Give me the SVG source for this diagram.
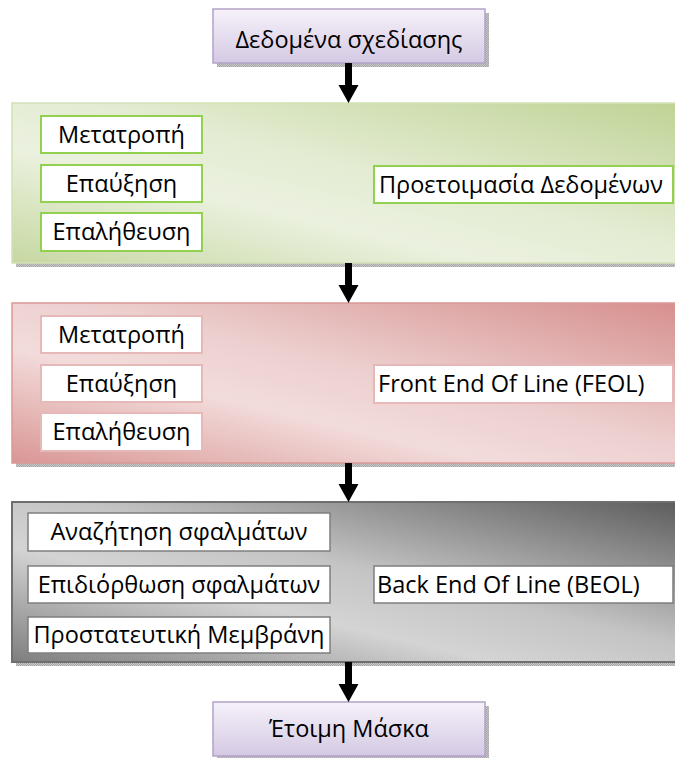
<svg xmlns="http://www.w3.org/2000/svg" width="675" height="758" viewBox="0 0 675 758">
  <style>
    text { font-family: "Open Sans", "Noto Sans", "DejaVu Sans", sans-serif; font-size: 23.5px; fill: #000; }
    .c { text-anchor: middle; }
    .l { text-anchor: start; }
    .inner { fill: #ffffff; }
    .g-in { stroke: #92d050; stroke-width: 2; }
    .r-in { stroke: #e6b9b8; stroke-width: 2; }
    .k-in { stroke: #7f7f7f; stroke-width: 1.5; }
    .end { fill: url(#purpleFill); stroke: #b3a2c7; stroke-width: 1.5; }
    .shadow { fill: url(#dither); }
    .arrow { fill: #000; }
  </style>
  <defs>
    <pattern id="dither" width="2" height="2" patternUnits="userSpaceOnUse">
      <rect width="2" height="2" fill="#a6a6a6"/>
      <rect width="1" height="1" fill="#c8c8c8"/>
      <rect x="1" y="1" width="1" height="1" fill="#c8c8c8"/>
    </pattern>
    <linearGradient id="purpleFill" x1="0" y1="0" x2="0" y2="1">
      <stop offset="0" stop-color="#f6f2fa"/>
      <stop offset="1" stop-color="#d4c9e3"/>
    </linearGradient>
    <linearGradient id="greenFill" x1="0" y1="1" x2="1" y2="0">
      <stop offset="0" stop-color="#c6d8a2"/>
      <stop offset="0.36" stop-color="#ebf1df"/>
      <stop offset="0.55" stop-color="#e4ecd3"/>
      <stop offset="1" stop-color="#bfd395"/>
    </linearGradient>
    <linearGradient id="redFill" x1="0" y1="1" x2="1" y2="0">
      <stop offset="0" stop-color="#d99694"/>
      <stop offset="0.36" stop-color="#f2dcdb"/>
      <stop offset="0.55" stop-color="#ecd0cf"/>
      <stop offset="1" stop-color="#d68f8d"/>
    </linearGradient>
    <linearGradient id="grayFill" x1="0" y1="1" x2="1" y2="0">
      <stop offset="0" stop-color="#7e7e7e"/>
      <stop offset="0.36" stop-color="#d4d4d4"/>
      <stop offset="0.55" stop-color="#c4c4c4"/>
      <stop offset="1" stop-color="#5c5c5c"/>
    </linearGradient>
  </defs>

  <!-- start node -->
  <g id="design-data">
    <rect class="shadow" x="217" y="13" width="272" height="54"/>
    <rect class="end" x="213" y="9" width="272" height="54"/>
    <text class="c" x="349" y="48">Δεδομένα σχεδίασης</text>
  </g>

  <!-- data preparation stage -->
  <g id="data-prep">
    <rect class="shadow" x="16" y="107" width="670" height="160"/>
    <rect x="12" y="103" width="670" height="160" fill="url(#greenFill)" stroke="#d3e1b6" stroke-width="1.5"/>
    <g id="prep-convert">
      <rect class="inner g-in" x="41" y="116" width="161" height="37"/>
      <text class="c" x="121.5" y="143">Μετατροπή</text>
    </g>
    <g id="prep-augment">
      <rect class="inner g-in" x="41" y="165" width="161" height="37"/>
      <text class="c" x="121.5" y="192">Επαύξηση</text>
    </g>
    <g id="prep-verify">
      <rect class="inner g-in" x="41" y="213" width="161" height="38"/>
      <text class="c" x="121.5" y="240">Επαλήθευση</text>
    </g>
    <g id="prep-label">
      <rect class="inner g-in" x="374" y="166" width="299" height="37"/>
      <text class="l" x="379" y="193">Προετοιμασία Δεδομένων</text>
    </g>
  </g>

  <!-- front end of line stage -->
  <g id="feol">
    <rect class="shadow" x="16" y="307" width="670" height="160"/>
    <rect x="12" y="303" width="670" height="160" fill="url(#redFill)" stroke="#da9896" stroke-width="1.5"/>
    <g id="feol-convert">
      <rect class="inner r-in" x="41" y="316" width="161" height="37"/>
      <text class="c" x="121.5" y="343">Μετατροπή</text>
    </g>
    <g id="feol-augment">
      <rect class="inner r-in" x="41" y="365" width="161" height="37"/>
      <text class="c" x="121.5" y="392">Επαύξηση</text>
    </g>
    <g id="feol-verify">
      <rect class="inner r-in" x="41" y="413" width="161" height="38"/>
      <text class="c" x="121.5" y="440">Επαλήθευση</text>
    </g>
    <g id="feol-label">
      <rect class="inner r-in" x="374" y="365" width="299" height="38"/>
      <text class="l" x="378" y="392">Front End Of Line (FEOL)</text>
    </g>
  </g>

  <!-- back end of line stage -->
  <g id="beol">
    <rect class="shadow" x="16" y="506" width="670" height="160"/>
    <rect x="12" y="502" width="670" height="160" fill="url(#grayFill)" stroke="#6f6f6f" stroke-width="2"/>
    <g id="beol-search">
      <rect class="inner k-in" x="28" y="513" width="302" height="38"/>
      <text class="c" x="179" y="540">Αναζήτηση σφαλμάτων</text>
    </g>
    <g id="beol-fix">
      <rect class="inner k-in" x="28" y="566" width="302" height="37"/>
      <text class="c" x="179" y="593">Επιδιόρθωση σφαλμάτων</text>
    </g>
    <g id="beol-membrane">
      <rect class="inner k-in" x="28" y="617" width="302" height="36"/>
      <text class="c" x="179" y="643">Προστατευτική Μεμβράνη</text>
    </g>
    <g id="beol-label">
      <rect class="inner k-in" x="374" y="566" width="299" height="37"/>
      <text class="l" x="377" y="593">Back End Of Line (BEOL)</text>
    </g>
  </g>

  <!-- end node -->
  <g id="ready-mask">
    <rect class="shadow" x="217" y="706" width="272" height="54"/>
    <rect class="end" x="213" y="702" width="272" height="54"/>
    <text class="c" x="349" y="737">Έτοιμη Μάσκα</text>
  </g>

  <!-- connectors -->
  <g id="connectors">
    <path class="arrow" d="M345 63 H352 V85 H358.5 L348.5 103 L338.5 85 H345 Z"/>
    <path class="arrow" d="M345 263 H352 V285 H358.5 L348.5 303 L338.5 285 H345 Z"/>
    <path class="arrow" d="M345 463 H352 V484 H358.5 L348.5 502 L338.5 484 H345 Z"/>
    <path class="arrow" d="M345 662 H352 V684 H358.5 L348.5 702 L338.5 684 H345 Z"/>
  </g>
</svg>
